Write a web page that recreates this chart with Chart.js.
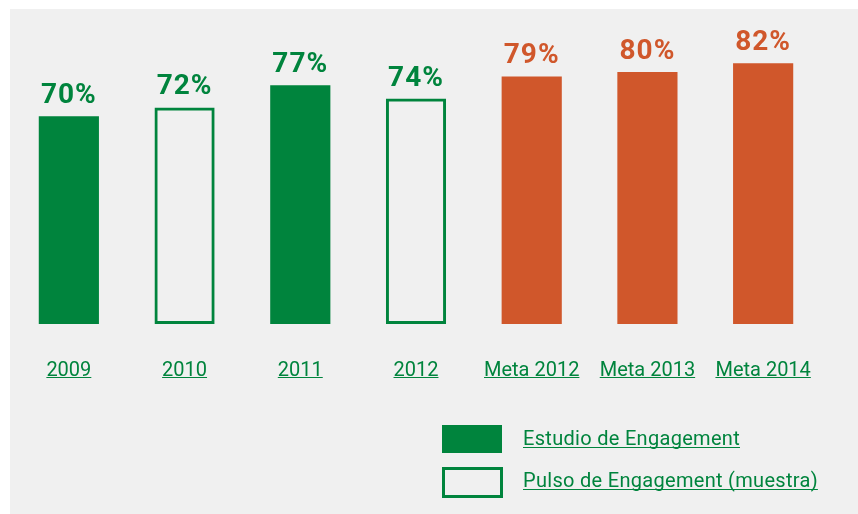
<!DOCTYPE html>
<html>
<head>
<meta charset="utf-8">
<script src="https://cdn.jsdelivr.net/npm/chart.js@4.4.1/dist/chart.umd.min.js"></script>
<style>
  html, body { margin: 0; padding: 0; background: #ffffff; }
  #wrap { width: 858px; height: 514px; position: relative; }
</style>
</head>
<body>
<div id="wrap"><canvas id="engChart" width="858" height="514"></canvas></div>
<script>
// chart data
const categories = ["2009", "2010", "2011", "2012", "Meta 2012", "Meta 2013", "Meta 2014"];
const values = [70, 72, 77, 74, 79, 80, 82];
// which kind of bar each category is: 0 = estudio, 1 = pulso, 2 = meta
const barKind = [0, 1, 0, 1, 2, 2, 2];
const legendLabels = ["Estudio de Engagement", "Pulso de Engagement (muestra)"];
const yMin = 23;
const yMax = 92;

const GREEN = "#00843d";
const ORANGE = "#d0572b";
const PANEL = "#f0f0f0";
const FONT = "Roboto, 'DejaVu Sans', sans-serif";

const fills = barKind.map(k => k === 0 ? GREEN : k === 1 ? "rgba(0,0,0,0)" : ORANGE);
const borders = barKind.map(k => k === 2 ? ORANGE : GREEN);
const borderWidths = barKind.map(k => k === 1 ? 3 : 0);
const labelColors = barKind.map(k => k === 2 ? ORANGE : GREEN);

// gray panel behind the chart
const panelBg = {
  id: "panelBg",
  beforeDraw(chart) {
    const c = chart.ctx;
    c.save();
    c.fillStyle = "#ffffff";
    c.fillRect(0, 0, chart.width, chart.height);
    c.fillStyle = PANEL;
    c.fillRect(10, 9, chart.width - 10, chart.height - 9);
    c.restore();
  }
};

// percent labels above the bars
const valueLabels = {
  id: "valueLabels",
  afterDatasetsDraw(chart) {
    const c = chart.ctx;
    const meta = chart.getDatasetMeta(0);
    c.save();
    c.font = "bold 28px " + FONT;
    c.textAlign = "center";
    c.textBaseline = "alphabetic";
    if ("letterSpacing" in c) c.letterSpacing = "1px";
    meta.data.forEach((bar, i) => {
      c.fillStyle = labelColors[i];
      c.fillText(values[i] + "%", bar.x, bar.y - 13);
    });
    c.restore();
  }
};

// underline under the category labels
const tickUnderline = {
  id: "tickUnderline",
  afterDraw(chart) {
    const c = chart.ctx;
    const x = chart.scales.x;
    const y = Math.round(chart.chartArea.bottom + 53) + 0.5;
    c.save();
    c.font = "20px " + FONT;
    c.strokeStyle = GREEN;
    c.lineWidth = 1;
    categories.forEach((lab, i) => {
      const w = c.measureText(lab).width;
      const px = x.getPixelForTick(i);
      c.beginPath();
      c.moveTo(px - w / 2, y);
      c.lineTo(px + w / 2, y);
      c.stroke();
    });
    c.restore();
  }
};

// legend at the lower right
const sideLegend = {
  id: "sideLegend",
  afterDraw(chart) {
    const c = chart.ctx;
    c.save();
    c.font = "20px " + FONT;
    c.textBaseline = "alphabetic";
    if ("letterSpacing" in c) c.letterSpacing = "0.3px";
    legendLabels.forEach((lab, i) => {
      const y = 425 + i * 42;
      if (i === 0) {
        c.fillStyle = GREEN;
        c.fillRect(442, y, 60, 28);
      } else {
        c.strokeStyle = GREEN;
        c.lineWidth = 3;
        c.strokeRect(443.5, y + 1.5, 58, 28);
      }
      c.fillStyle = GREEN;
      c.fillText(lab, 523, y + 20);
      const w = c.measureText(lab).width;
      c.strokeStyle = GREEN;
      c.lineWidth = 1;
      c.beginPath();
      c.moveTo(523, y + 22.5);
      c.lineTo(523 + w, y + 22.5);
      c.stroke();
    });
    c.restore();
  }
};

new Chart(document.getElementById("engChart"), {
  type: "bar",
  data: {
    labels: categories,
    datasets: [{
      data: values,
      base: yMin,
      backgroundColor: fills,
      borderColor: borders,
      borderWidth: borderWidths,
      borderSkipped: false,
      barPercentage: 0.52,
      categoryPercentage: 1.0,
      clip: false
    }]
  },
  options: {
    responsive: false,
    animation: false,
    layout: { padding: { left: 11, right: 37, top: 19, bottom: 96 } },
    plugins: {
      legend: { display: false },
      tooltip: { enabled: false }
    },
    scales: {
      x: {
        grid: { display: false, drawTicks: false },
        border: { display: false },
        ticks: {
          color: GREEN,
          font: { family: FONT, size: 20 },
          padding: 35,
          maxRotation: 0
        }
      },
      y: {
        display: false,
        min: yMin,
        max: yMax
      }
    }
  },
  plugins: [panelBg, valueLabels, tickUnderline, sideLegend]
});
</script>
</body>
</html>
